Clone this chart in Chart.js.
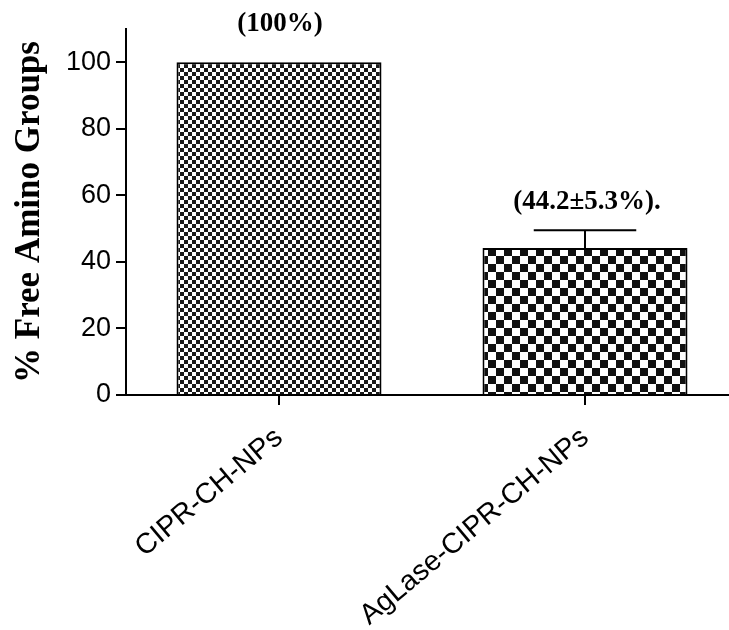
<!DOCTYPE html>
<html>
<head>
<meta charset="utf-8">
<script src="https://cdn.jsdelivr.net/npm/chart.js@4.4.1/dist/chart.umd.min.js"></script>
<style>
  html, body { margin: 0; padding: 0; background: #fff; overflow: hidden; }
</style>
</head>
<body>
<canvas id="chart" width="750" height="630"></canvas>
<script>
// data
const groups = ['CIPR-CH-NPs', 'AgLase-CIPR-CH-NPs'];
const freeAmino = [100, 44.2];
const errorSD = [0, 5.3];
const barLabels = ['(100%)', '(44.2±5.3%).'];
const yTicks = [0, 20, 40, 60, 80, 100];

// checkerboard fills
function checker(cell, dark) {
  const c = document.createElement('canvas');
  c.width = cell * 2; c.height = cell * 2;
  const g = c.getContext('2d');
  g.fillStyle = '#fff';
  g.fillRect(0, 0, c.width, c.height);
  g.fillStyle = dark;
  g.fillRect(0, 0, cell, cell);
  g.fillRect(cell, cell, cell, cell);
  return g.createPattern(c, 'repeat');
}
const fills = [checker(4, '#1a1a1a'), checker(8, '#111')];

// error bar (upper only) + text above bars
const extras = {
  id: 'extras',
  afterDatasetsDraw(chart, args, opts) {
    const ctx = chart.ctx;
    const meta = chart.getDatasetMeta(0);
    const y = chart.scales.y;
    ctx.save();
    meta.data.forEach((bar, i) => {
      const top = freeAmino[i] + errorSD[i];
      const yTop = y.getPixelForValue(top);
      if (errorSD[i] > 0) {
        const half = bar.width / 4;
        ctx.strokeStyle = '#000';
        ctx.lineWidth = 2;
        ctx.beginPath();
        ctx.moveTo(bar.x, y.getPixelForValue(freeAmino[i]));
        ctx.lineTo(bar.x, yTop);
        ctx.moveTo(bar.x - half, yTop);
        ctx.lineTo(bar.x + half, yTop);
        ctx.stroke();
      }
      ctx.fillStyle = '#000';
      ctx.font = 'bold 27px "Liberation Serif", "Times New Roman", serif';
      ctx.textAlign = 'center';
      ctx.textBaseline = 'middle';
      ctx.fillText(barLabels[i], bar.x + opts.shift[i], yTop - opts.lift[i]);
    });
    ctx.restore();
  }
};

new Chart(document.getElementById('chart'), {
  type: 'bar',
  data: {
    labels: groups,
    datasets: [{
      data: freeAmino,
      backgroundColor: fills,
      borderColor: '#000',
      borderWidth: 2,
      borderSkipped: 'bottom',
      categoryPercentage: 1,
      barPercentage: 0.67
    }]
  },
  options: {
    responsive: false,
    animation: false,
    devicePixelRatio: 1,
    layout: { padding: { top: 29, right: 12, left: 0, bottom: 0 } },
    plugins: {
      legend: { display: false },
      tooltip: { enabled: false },
      extras: { lift: [38, 28], shift: [1, 2] }
    },
    scales: {
      x: {
        offset: true,
        grid: { drawOnChartArea: false, drawTicks: true, tickLength: 10, color: '#000', lineWidth: 2, offset: false },
        border: { color: '#000', width: 2 },
        ticks: {
          color: '#000',
          font: { family: '"Liberation Sans", Arial, sans-serif', size: 28.5 },
          minRotation: 40, maxRotation: 40, autoSkip: false, padding: 16
        },
        afterFit(scale) { scale.height = 235; }
      },
      y: {
        min: 0, max: 110,
        afterBuildTicks(scale) { scale.ticks = yTicks.map(v => ({ value: v })); },
        grid: { drawOnChartArea: false, drawTicks: true, tickLength: 10, color: '#000', lineWidth: 2 },
        border: { color: '#000', width: 2 },
        ticks: {
          color: '#000',
          padding: 5,
          font: { family: '"Liberation Sans", Arial, sans-serif', size: 27 }
        },
        title: {
          display: true,
          text: '% Free Amino Groups',
          color: '#000',
          font: { family: '"Liberation Serif", "Times New Roman", serif', size: 35, weight: 'bold' },
          padding: { top: 9, bottom: 0 }
        },
        afterFit(scale) { scale.width = 126; }
      }
    }
  },
  plugins: [extras]
});
</script>
</body>
</html>
